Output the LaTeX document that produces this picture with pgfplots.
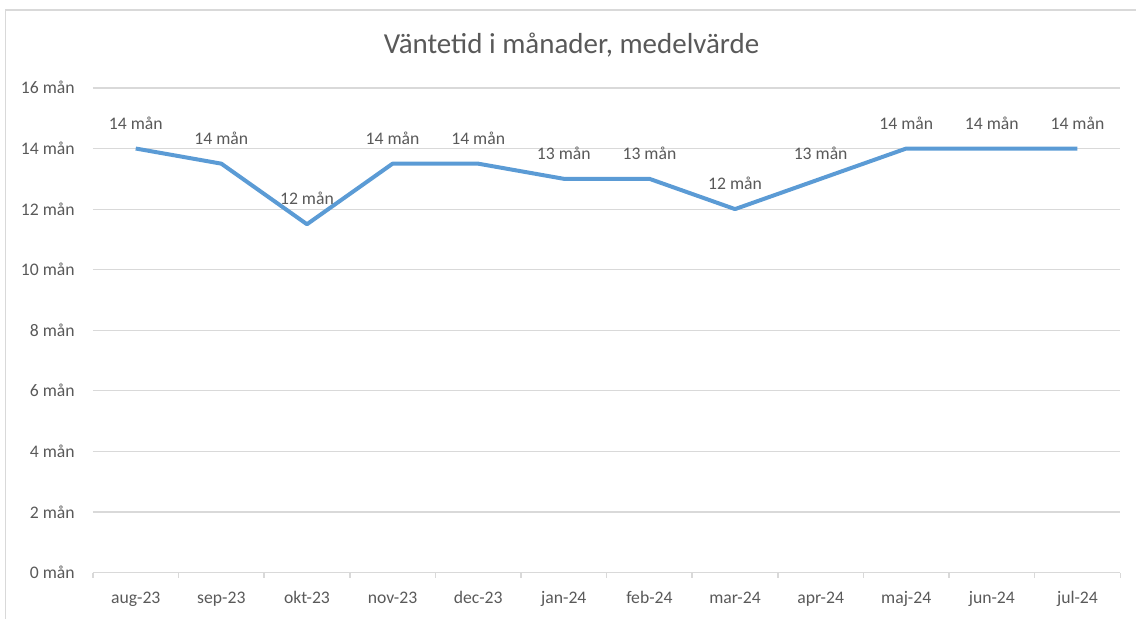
\documentclass[border=0pt]{standalone}
\usepackage{fontspec}
\setmainfont{Carlito}
\usepackage{pgfplots}
\pgfplotsset{compat=1.18}
\definecolor{txt}{HTML}{595959}
\definecolor{grd}{HTML}{D9D9D9}
\definecolor{ln}{HTML}{5B9BD5}

\pgfplotstableread{
x y lab
0 14 14
1 13.5 14
2 11.5 12
3 13.5 14
4 13.5 14
5 13 13
6 13 13
7 12 12
8 13 13
9 14 14
10 14 14
11 14 14
}\waittab

\begin{document}
\begin{tikzpicture}
% canvas 1137x619 px, 1px = 0.6pt
\path (0pt,0pt) rectangle (682.2pt,371.4pt);
\draw[grd, line width=0.9pt] (3.3pt,0pt) -- (3.3pt,365.4pt) -- (682.2pt,365.4pt);
\node[text=txt, font=\fontsize{17.4}{20}\selectfont] at (343.2pt,344.4pt) {Väntetid i månader, medelvärde};
\begin{axis}[
    at={(55.8pt,27.6pt)}, anchor=south west,
    scale only axis, width=616.8pt, height=291pt,
    clip=false,
    xmin=-0.5, xmax=11.5,
    ymin=0, ymax=16,
    axis x line*=bottom, axis y line*=left,
    x axis line style={draw=grd, line width=0.9pt, -},
    y axis line style={draw=none},
    xtick={0,...,11},
    xticklabels={aug-23,sep-23,okt-23,nov-23,dec-23,jan-24,feb-24,mar-24,apr-24,maj-24,jun-24,jul-24},
    minor xtick={-0.5,0.5,...,11.5},
    ytick={0,2,...,16},
    yticklabel={\pgfmathprintnumber[assume math mode=true]{\tick}~mån},
    major tick length=0pt,
    minor tick length=3pt,
    tick align=outside,
    minor tick style={draw=grd, line width=0.9pt},
    ymajorgrids,
    grid style={draw=grd, line width=0.7pt},
    tick label style={text=txt, font=\fontsize{10.6}{12}\selectfont, inner sep=0pt},
    xticklabel style={anchor=base, yshift=-18.6pt},
    yticklabel style={anchor=base east, xshift=-10.8pt, yshift=-3.6pt},
    nodes near coords={\pgfplotspointmeta~mån},
    point meta=explicit symbolic,
    every node near coord/.append style={anchor=base, inner sep=0pt, yshift=11.7pt, text=txt, font=\fontsize{10.6}{12}\selectfont},
]
\addplot[color=ln, line width=2.4pt, line join=round, mark=none] table[x=x, y=y, meta=lab] {\waittab};
\end{axis}
\end{tikzpicture}
\end{document}
